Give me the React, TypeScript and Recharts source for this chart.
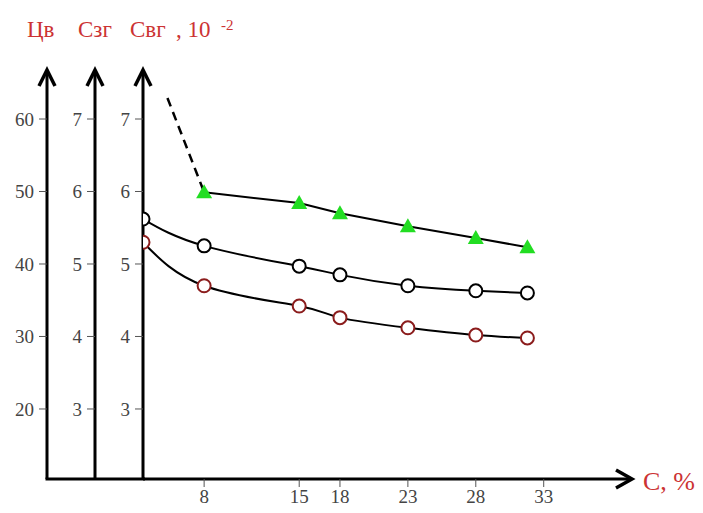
import React from "react";
import { LineChart, Line, XAxis, YAxis } from "recharts";

document.body.style.margin = "0";

// C, % values of the measured points
const cValues = [3.5, 8, 15, 18, 23, 28, 31.8];
const blackValues = [5.62, 5.25, 4.97, 4.85, 4.7, 4.63, 4.6];
const redValues = [5.3, 4.7, 4.42, 4.26, 4.12, 4.02, 3.98];

const greenC = [8, 15, 18, 23, 28, 31.8];
const greenValues = [5.99, 5.84, 5.7, 5.52, 5.36, 5.23];

// dashed extrapolation towards the top
const dashC = [5.3, 8];
const dashValues = [7.29, 5.99];

const xTicks = [8, 15, 18, 23, 28, 33];
const cvTicks = [20, 30, 40, 50, 60];
const sTicks = [3, 4, 5, 6, 7];

const mainData = cValues.map((c, i) => ({ c, black: blackValues[i], red: redValues[i] }));
const greenData = greenC.map((c, i) => ({ c, green: greenValues[i] }));
const dashData = dashC.map((c, i) => ({ c, dash: dashValues[i] }));

const W = 703;
const H = 513;
const SERIF = "Liberation Serif, Times New Roman, serif";
const RED = "#cc3333";

const tickStyle = { fill: "#444", fontSize: 19, fontFamily: SERIF };
const axisLine = { stroke: "#000", strokeWidth: 3 };
const tickLine = { stroke: "#555", strokeWidth: 1 };

function Triangle(props: any) {
  const { cx, cy } = props;
  if (cx == null || cy == null) return null;
  return (
    <polygon
      points={`${cx},${cy - 8} ${cx - 8},${cy + 6} ${cx + 8},${cy + 6}`}
      fill="#22dd22"
    />
  );
}

function Arrow({ x }: { x: number }) {
  return (
    <polyline
      points={`${x - 8},86 ${x},70 ${x + 8},86`}
      fill="none"
      stroke="#000"
      strokeWidth={3.5}
    />
  );
}

// y axis ids sort so that "a_svg" sits next to the plot, "c_cv" outermost
export default function App() {
  return (
    <div style={{ position: "relative", width: W, height: H, background: "#fff" }}>
      <LineChart width={W} height={H} margin={{ top: 70, right: 71, bottom: 0, left: 0 }}>
        <XAxis
          type="number"
          dataKey="c"
          domain={[3.5, 39.5]}
          ticks={xTicks}
          allowDataOverflow
          height={34}
          tickSize={8}
          tickMargin={3}
          tick={tickStyle}
          axisLine={axisLine}
          tickLine={tickLine}
        />
        <YAxis
          yAxisId="c_cv"
          domain={[10.34, 66.76]}
          ticks={cvTicks}
          allowDataOverflow
          width={47}
          tickSize={8}
          tickMargin={5}
          tick={tickStyle}
          axisLine={axisLine}
          tickLine={tickLine}
        />
        <YAxis
          yAxisId="b_szg"
          domain={[2.034, 7.676]}
          ticks={sTicks}
          allowDataOverflow
          width={48}
          tickSize={8}
          tickMargin={5}
          tick={tickStyle}
          axisLine={axisLine}
          tickLine={tickLine}
        />
        <YAxis
          yAxisId="a_svg"
          domain={[2.034, 7.676]}
          ticks={sTicks}
          allowDataOverflow
          width={48}
          tickSize={8}
          tickMargin={5}
          tick={tickStyle}
          axisLine={axisLine}
          tickLine={tickLine}
        />
        <Line
          yAxisId="a_svg"
          data={dashData}
          dataKey="dash"
          type="linear"
          stroke="#000"
          strokeWidth={2.5}
          strokeDasharray="9 6"
          dot={false}
          isAnimationActive={false}
        />
        <Line
          yAxisId="a_svg"
          data={greenData}
          dataKey="green"
          type="linear"
          stroke="#000"
          strokeWidth={2}
          dot={<Triangle />}
          isAnimationActive={false}
        />
        <Line
          yAxisId="a_svg"
          data={mainData}
          dataKey="black"
          type="natural"
          stroke="#000"
          strokeWidth={2}
          dot={{ r: 6.5, stroke: "#000", strokeWidth: 2, fill: "#fff" }}
          isAnimationActive={false}
        />
        <Line
          yAxisId="a_svg"
          data={mainData}
          dataKey="red"
          type="natural"
          stroke="#000"
          strokeWidth={2}
          dot={{ r: 6.5, stroke: "#8b1c1c", strokeWidth: 2, fill: "#fff" }}
          isAnimationActive={false}
        />
      </LineChart>
      <svg
        width={W}
        height={H}
        style={{ position: "absolute", left: 0, top: 0, pointerEvents: "none" }}
      >
        <line x1={45.5} x2={145} y1={479} y2={479} stroke="#000" strokeWidth={3} />
        <Arrow x={47} />
        <Arrow x={95} />
        <Arrow x={143} />
        <polyline points="616,470 632,479 616,488" fill="none" stroke="#000" strokeWidth={3.5} />
        <g fill={RED} fontFamily={SERIF} fontSize={23}>
          <text x={27} y={37}>Цв</text>
          <text x={78} y={37}>Сзг</text>
          <text x={130} y={37}>Свг</text>
          <text x={176} y={37}>, 10</text>
          <text x={221} y={30} fontSize={15}>-2</text>
          <text x={643} y={490} fontSize={26}>C, %</text>
        </g>
      </svg>
    </div>
  );
}
